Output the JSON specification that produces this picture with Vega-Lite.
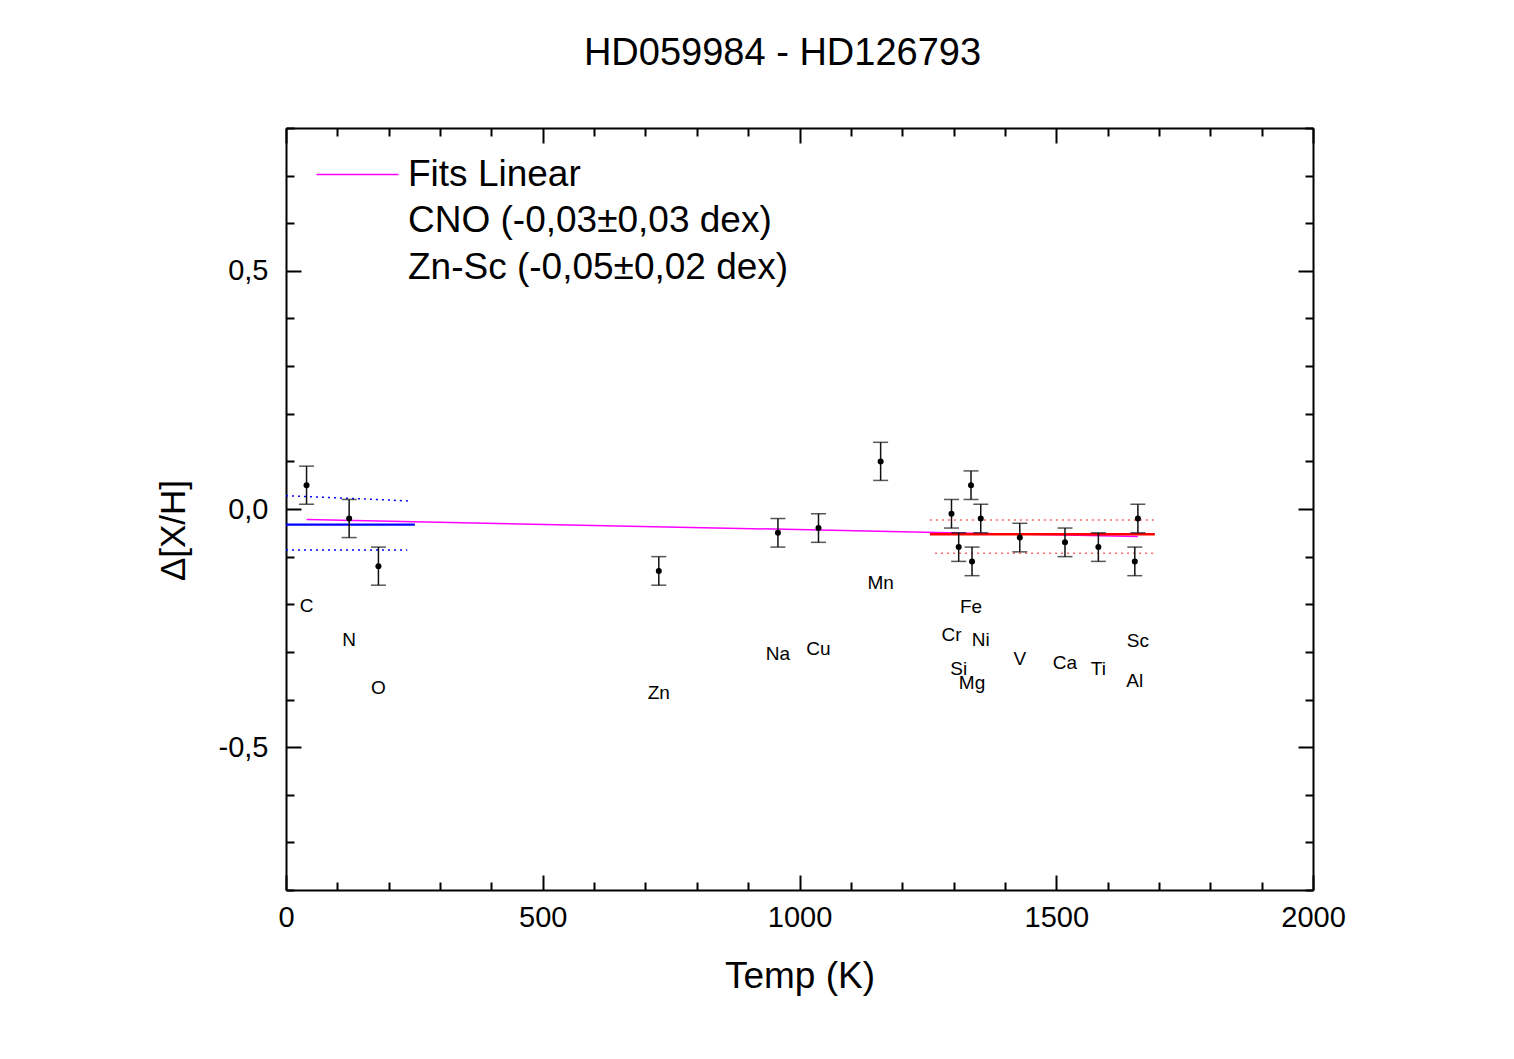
{
  "$schema": "https://vega.github.io/schema/vega-lite/v6.json",
  "width": 1027,
  "height": 762,
  "autosize": {"type": "none"},
  "padding": {"left": 286, "top": 128, "right": 201, "bottom": 169},
  "background": "white",
  "title": {"text": "HD059984 - HD126793", "fontSize": 38, "font": "Liberation Sans", "fontWeight": "normal", "color": "black", "anchor": "middle", "frame": "group", "dx": -17, "offset": 11, "baseline": "alphabetic"},
  "config": {
    "view": {"stroke": null},
    "font": "Liberation Sans",
    "axis": {"grid": false, "domainColor": "black", "domainWidth": 2, "tickColor": "black", "tickWidth": 2, "labelColor": "black", "titleColor": "black", "labelFont": "Liberation Sans", "titleFont": "Liberation Sans", "titleFontWeight": "normal", "labelOverlap": false, "labelFlush": false}
  },
  "datasets": {
    "el": [
      {"el": "C", "T": 40, "v": 0.05, "e": 0.04, "ly": -0.204},
      {"el": "N", "T": 123, "v": -0.02, "e": 0.04, "ly": -0.276},
      {"el": "O", "T": 180, "v": -0.12, "e": 0.04, "ly": -0.375},
      {"el": "Zn", "T": 726, "v": -0.13, "e": 0.03, "ly": -0.387},
      {"el": "Na", "T": 958, "v": -0.05, "e": 0.03, "ly": -0.305},
      {"el": "Cu", "T": 1037, "v": -0.04, "e": 0.03, "ly": -0.295},
      {"el": "Mn", "T": 1158, "v": 0.10, "e": 0.04, "ly": -0.156},
      {"el": "Cr", "T": 1296, "v": -0.01, "e": 0.03, "ly": -0.265},
      {"el": "Si", "T": 1310, "v": -0.08, "e": 0.03, "ly": -0.335},
      {"el": "Fe", "T": 1334, "v": 0.05, "e": 0.03, "ly": -0.206},
      {"el": "Mg", "T": 1336, "v": -0.11, "e": 0.03, "ly": -0.366},
      {"el": "Ni", "T": 1353, "v": -0.02, "e": 0.03, "ly": -0.276},
      {"el": "V", "T": 1429, "v": -0.06, "e": 0.03, "ly": -0.314},
      {"el": "Ca", "T": 1517, "v": -0.07, "e": 0.03, "ly": -0.324},
      {"el": "Ti", "T": 1582, "v": -0.08, "e": 0.03, "ly": -0.335},
      {"el": "Sc", "T": 1659, "v": -0.02, "e": 0.03, "ly": -0.278},
      {"el": "Al", "T": 1653, "v": -0.11, "e": 0.03, "ly": -0.362}
    ],
    "fits": [
      {"fit": "Fits Linear", "seg": "fit", "T": 40, "v": -0.022},
      {"fit": "Fits Linear", "seg": "fit", "T": 1659, "v": -0.058},
      {"fit": "CNO (-0,03±0,03 dex)", "seg": "mean", "T": 0, "v": -0.033},
      {"fit": "CNO (-0,03±0,03 dex)", "seg": "mean", "T": 251, "v": -0.033},
      {"fit": "CNO (-0,03±0,03 dex)", "seg": "upper", "T": 0, "v": 0.028},
      {"fit": "CNO (-0,03±0,03 dex)", "seg": "upper", "T": 238, "v": 0.017},
      {"fit": "CNO (-0,03±0,03 dex)", "seg": "lower", "T": 0, "v": -0.086},
      {"fit": "CNO (-0,03±0,03 dex)", "seg": "lower", "T": 236, "v": -0.086},
      {"fit": "Zn-Sc (-0,05±0,02 dex)", "seg": "mean", "T": 1254, "v": -0.053},
      {"fit": "Zn-Sc (-0,05±0,02 dex)", "seg": "mean", "T": 1692, "v": -0.053},
      {"fit": "Zn-Sc (-0,05±0,02 dex)", "seg": "upper", "T": 1254, "v": -0.023},
      {"fit": "Zn-Sc (-0,05±0,02 dex)", "seg": "upper", "T": 1692, "v": -0.023},
      {"fit": "Zn-Sc (-0,05±0,02 dex)", "seg": "lower", "T": 1264, "v": -0.093},
      {"fit": "Zn-Sc (-0,05±0,02 dex)", "seg": "lower", "T": 1692, "v": -0.093}
    ]
  },
  "layer": [
    {
      "data": {"name": "fits"},
      "transform": [{"filter": "datum.seg == 'fit'"}],
      "mark": {"type": "line", "strokeWidth": 1.5},
      "encoding": {
        "x": {"field": "T", "type": "quantitative", "scale": {"domain": [0, 2000], "nice": false}, "axis": null},
        "y": {"field": "v", "type": "quantitative", "scale": {"domain": [-0.8, 0.8], "nice": false}, "axis": null},
        "stroke": {
          "field": "fit", "type": "nominal",
          "scale": {"domain": ["Fits Linear", "CNO (-0,03±0,03 dex)", "Zn-Sc (-0,05±0,02 dex)"], "range": ["#ff00ff", "transparent", "transparent"]},
          "legend": {"title": null, "orient": "none", "legendX": 21, "legendY": 28, "symbolType": "M-5,0H5", "symbolSize": 269, "symbolStrokeWidth": 1.5, "symbolOffset": 32, "labelOffset": 32, "labelFontSize": 37, "labelFont": "Liberation Sans", "labelColor": "black", "labelLimit": 1000, "rowPadding": 8.5, "padding": 0}
        }
      }
    },
    {
      "data": {"name": "fits"},
      "transform": [{"filter": "datum.seg == 'mean' && datum.fit == 'CNO (-0,03±0,03 dex)'"}],
      "mark": {"type": "line", "strokeWidth": 2.2, "color": "#0000ff"},
      "encoding": {
        "x": {"field": "T", "type": "quantitative", "axis": null},
        "y": {"field": "v", "type": "quantitative", "axis": null}
      }
    },
    {
      "data": {"name": "fits"},
      "transform": [{"filter": "datum.seg != 'mean' && datum.fit == 'CNO (-0,03±0,03 dex)'"}],
      "mark": {"type": "line", "strokeWidth": 1.5, "color": "#0000ff", "strokeDash": [2, 4]},
      "encoding": {
        "x": {"field": "T", "type": "quantitative", "axis": null},
        "y": {"field": "v", "type": "quantitative", "axis": null},
        "detail": {"field": "seg"}
      }
    },
    {
      "data": {"name": "fits"},
      "transform": [{"filter": "datum.seg == 'mean' && datum.fit == 'Zn-Sc (-0,05±0,02 dex)'"}],
      "mark": {"type": "line", "strokeWidth": 2.5, "color": "#ff0000"},
      "encoding": {
        "x": {"field": "T", "type": "quantitative", "axis": null},
        "y": {"field": "v", "type": "quantitative", "axis": null}
      }
    },
    {
      "data": {"name": "fits"},
      "transform": [{"filter": "datum.seg != 'mean' && datum.fit == 'Zn-Sc (-0,05±0,02 dex)'"}],
      "mark": {"type": "line", "strokeWidth": 1.5, "color": "#ff0000", "opacity": 0.6, "strokeDash": [2, 4]},
      "encoding": {
        "x": {"field": "T", "type": "quantitative", "axis": null},
        "y": {"field": "v", "type": "quantitative", "axis": null},
        "detail": {"field": "seg"}
      }
    },
    {
      "data": {"name": "el"},
      "mark": {"type": "errorbar", "ticks": true, "size": 15, "thickness": 1.5, "color": "#111111"},
      "encoding": {
        "x": {"field": "T", "type": "quantitative", "axis": null},
        "y": {"field": "v", "type": "quantitative", "axis": null},
        "yError": {"field": "e"}
      }
    },
    {
      "data": {"name": "el"},
      "mark": {"type": "circle", "size": 36, "color": "black", "opacity": 1},
      "encoding": {
        "x": {"field": "T", "type": "quantitative", "scale": {"domain": [0, 2000], "nice": false},
          "axis": {"orient": "bottom", "values": [0,100,200,300,400,500,600,700,800,900,1000,1100,1200,1300,1400,1500,1600,1700,1800,1900,2000],
            "format": "d",
            "tickSize": {"condition": {"test": "datum.value % 500 == 0", "value": -15}, "value": -8},
            "labelExpr": "datum.value % 500 == 0 ? datum.label : ''",
            "labelFontSize": 29, "labelPadding": 28, "title": "Temp (K)", "titleFontSize": 37, "titlePadding": 19}},
        "y": {"field": "v", "type": "quantitative", "scale": {"domain": [-0.8, 0.8], "nice": false},
          "axis": {"orient": "left", "values": [-0.8,-0.7,-0.6,-0.5,-0.4,-0.3,-0.2,-0.1,0,0.1,0.2,0.3,0.4,0.5,0.6,0.7,0.8],
            "tickSize": {"condition": {"test": "abs(round(datum.value*10)) % 5 == 0", "value": -15}, "value": -8},
            "labelExpr": "abs(round(datum.value*10)) % 5 == 0 ? replace(replace(format(datum.value, '.1f'), '.', ','), '\u2212', '-') : ''",
            "labelFontSize": 29, "labelPadding": 33, "title": "Δ[X/H]", "titleFontSize": 35, "titlePadding": 27, "titleY": 402}}
      }
    },
    {
      "data": {"name": "el"},
      "mark": {"type": "text", "fontSize": 19, "font": "Liberation Sans", "color": "black", "baseline": "middle", "align": "center"},
      "encoding": {
        "x": {"field": "T", "type": "quantitative",
          "axis": {"orient": "top", "values": [0,100,200,300,400,500,600,700,800,900,1000,1100,1200,1300,1400,1500,1600,1700,1800,1900,2000],
            "tickSize": {"condition": {"test": "datum.value % 500 == 0", "value": -15}, "value": -8},
            "labels": false, "title": null}},
        "y": {"field": "ly", "type": "quantitative",
          "axis": {"orient": "right", "values": [-0.8,-0.7,-0.6,-0.5,-0.4,-0.3,-0.2,-0.1,0,0.1,0.2,0.3,0.4,0.5,0.6,0.7,0.8],
            "tickSize": {"condition": {"test": "abs(round(datum.value*10)) % 5 == 0", "value": -15}, "value": -8},
            "labels": false, "title": null}},
        "text": {"field": "el"}
      }
    }
  ]
}
